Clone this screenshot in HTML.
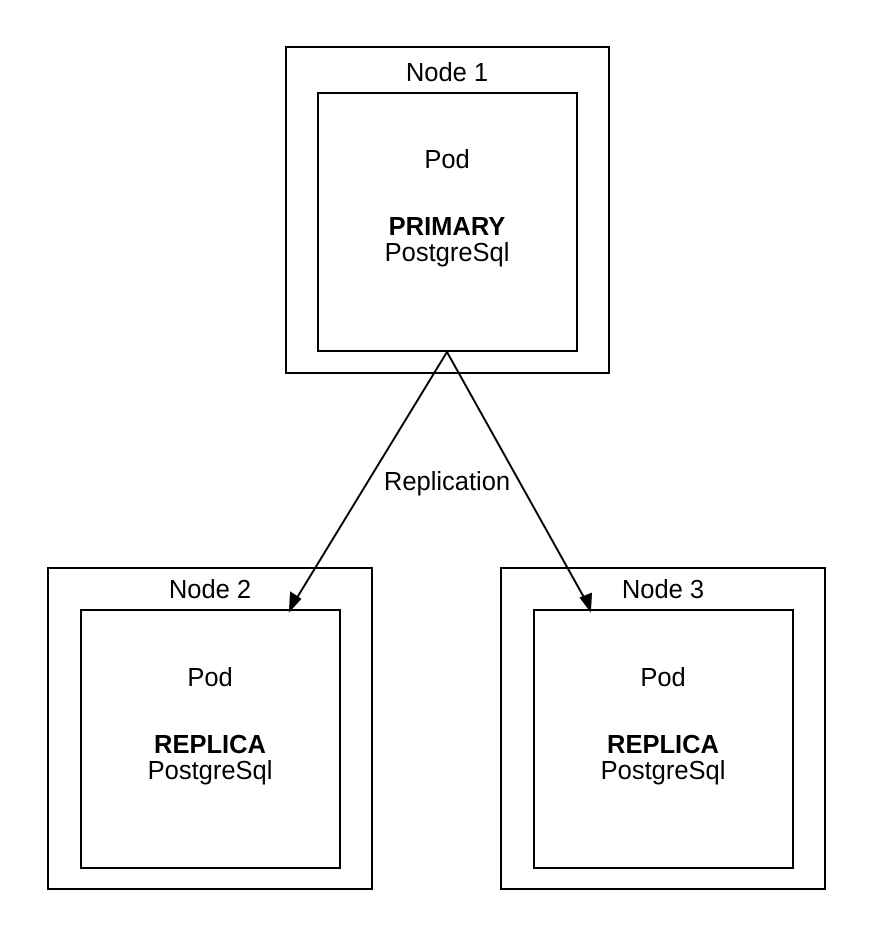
<!DOCTYPE html>
<html><head><style>
body{margin:0;background:#fff;}
svg text{font-family:"Liberation Sans",sans-serif;font-size:25.5px;fill:#000;}
</style></head><body>
<svg width="876" height="940" viewBox="0 0 876 940" xmlns="http://www.w3.org/2000/svg">
<g fill="none" stroke="#000" stroke-width="2">
<rect x="286" y="47" width="323" height="326"/>
<rect x="318" y="93" width="259" height="258"/>
<rect x="48" y="568" width="324" height="321"/>
<rect x="81" y="610" width="259" height="258"/>
<rect x="501" y="568" width="324" height="321"/>
<rect x="534" y="610" width="259" height="258"/>
<line x1="447" y1="352" x2="295" y2="601"/>
<line x1="447" y1="352" x2="586" y2="601"/>
</g>
<polygon points="290,610 291,593 300,599" fill="#000" stroke="#000" stroke-width="2"/>
<polygon points="590,610 581,598 591,594" fill="#000" stroke="#000" stroke-width="2"/>
<g text-anchor="middle">
<text x="447" y="81">Node 1</text>
<text x="447" y="168">Pod</text>
<text x="447" y="235" font-weight="bold">PRIMARY</text>
<text x="447" y="261">PostgreSql</text>
<text x="447" y="490">Replication</text>
<text x="210" y="598">Node 2</text>
<text x="210" y="686">Pod</text>
<text x="210" y="753" font-weight="bold">REPLICA</text>
<text x="210" y="779">PostgreSql</text>
<text x="663" y="598">Node 3</text>
<text x="663" y="686">Pod</text>
<text x="663" y="753" font-weight="bold">REPLICA</text>
<text x="663" y="779">PostgreSql</text>
</g>
</svg>
</body></html>
